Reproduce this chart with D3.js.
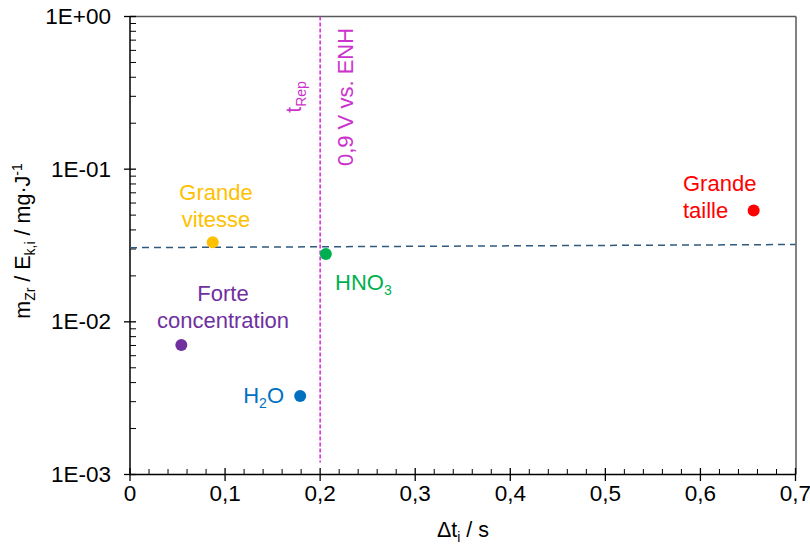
<!DOCTYPE html>
<html><head><meta charset="utf-8">
<script src="https://cdn.jsdelivr.net/npm/d3@7"></script>
<style>body{margin:0;background:#fff}text{font-family:"Liberation Sans",Arial,sans-serif}</style>
</head><body><svg id="c" width="810" height="546"></svg>
<script>
const names = ["Grande vitesse","HNO3","Grande taille","Forte concentration","H2O"];
const xVals = [0.087, 0.206, 0.656, 0.054, 0.179];
const yVals = [0.0332, 0.0278, 0.0537, 0.00705, 0.00327];
const colors = ["#FFC000","#00B050","#FF0000","#7030A0","#0070C0"];
const xTicks = [0,0.1,0.2,0.3,0.4,0.5,0.6,0.7];
const xTickLabels = ["0","0,1","0,2","0,3","0,4","0,5","0,6","0,7"];
const yTicks = [1e-3,1e-2,1e-1,1];
const yTickLabels = ["1E-03","1E-02","1E-01","1E+00"];
const trendX = [0, 0.7];
const trendY = [0.0306, 0.0321];
const repX = [0.2, 0.2];
const repY = [1, 0.0012];

const svg = d3.select("#c");
const x = d3.scaleLinear().domain([0,0.7]).range([130,795.5]);
const y = d3.scaleLog().domain([1e-3,1]).range([474.5,16.5]);

// borders top/right
svg.append("line").attr("x1",130).attr("x2",796).attr("y1",16.5).attr("y2",16.5).attr("stroke","#595959").attr("stroke-width",1.5);
svg.append("line").attr("x1",796).attr("x2",796).attr("y1",16.5).attr("y2",474.5).attr("stroke","#595959").attr("stroke-width",1.5);

// minor ticks
const yMinor = [];
for (let d=-3; d<0; d++) for (let k=2;k<=9;k++) yMinor.push(k*Math.pow(10,d));
const xMinor = d3.range(0,0.7001,0.02).filter(v=>Math.abs(v*10-Math.round(v*10))>1e-6);
const g = svg.append("g");
g.selectAll(".ym").data(yMinor).join("line").attr("x1",130).attr("x2",136).attr("y1",d=>y(d)).attr("y2",d=>y(d)).attr("stroke","#000").attr("stroke-width",1);
g.selectAll(".xm").data(xMinor).join("line").attr("x1",d=>x(d)).attr("x2",d=>x(d)).attr("y1",474.5).attr("y2",469).attr("stroke","#000").attr("stroke-width",1);
// major ticks
g.selectAll(".yM").data(yTicks).join("line").attr("x1",124).attr("x2",136).attr("y1",d=>y(d)).attr("y2",d=>y(d)).attr("stroke","#000").attr("stroke-width",1.3);
g.selectAll(".xM").data(xTicks).join("line").attr("x1",d=>x(d)).attr("x2",d=>x(d)).attr("y1",468).attr("y2",481).attr("stroke","#000").attr("stroke-width",1.3);
// axes
svg.append("line").attr("x1",130).attr("x2",130).attr("y1",16.5).attr("y2",474.5).attr("stroke","#000").attr("stroke-width",1.5);
svg.append("line").attr("x1",130).attr("x2",796).attr("y1",474.5).attr("y2",474.5).attr("stroke","#000").attr("stroke-width",1.5);

// tick labels
g.selectAll(".yl").data(yTicks).join("text").attr("x",111).attr("y",d=>y(d)+7.5).attr("text-anchor","end").attr("font-size",22.5).attr("fill","#000").text((d,i)=>yTickLabels[i]);
g.selectAll(".xl").data(xTicks).join("text").attr("x",d=>x(d)).attr("y",500.5).attr("text-anchor","middle").attr("font-size",22.5).attr("fill","#000").text((d,i)=>xTickLabels[i]);

// axis titles
const xt = svg.append("text").attr("x",463).attr("y",537).attr("text-anchor","middle").attr("font-size",21.5).attr("fill","#000");
xt.append("tspan").text("\u0394t");
xt.append("tspan").attr("font-size",14).attr("dy",5).text("i");
xt.append("tspan").attr("dy",-5).text(" / s");

const yt = svg.append("text").attr("transform","translate(30,241) rotate(-90)").attr("text-anchor","middle").attr("font-size",21.5).attr("fill","#000");
yt.append("tspan").text("m");
yt.append("tspan").attr("font-size",14).attr("dy",5).text("Zr");
yt.append("tspan").attr("dy",-5).text(" / E");
yt.append("tspan").attr("font-size",14).attr("dy",5).text("k,i");
yt.append("tspan").attr("dy",-5).text(" / mg\u00B7J");
yt.append("tspan").attr("font-size",14).attr("dy",-8).text("-1");

// lines
const line = d3.line().x(d=>x(d[0])).y(d=>y(d[1]));
svg.append("path").attr("d",line(trendX.map((v,i)=>[v,trendY[i]]))).attr("stroke","#2F5A7E").attr("stroke-width",1.5).attr("stroke-dasharray","7,5").attr("fill","none");
svg.append("path").attr("d",line(repX.map((v,i)=>[v,repY[i]]))).attr("stroke","#DD22DD").attr("stroke-width",1.5).attr("stroke-dasharray","4,2").attr("fill","none");

// magenta labels
const tr = svg.append("text").attr("transform","translate(301,97) rotate(-90)").attr("text-anchor","middle").attr("font-size",21.5).attr("fill","#CC33CC");
tr.append("tspan").text("t");
tr.append("tspan").attr("font-size",14).attr("dy",5).text("Rep");
svg.append("text").attr("transform","translate(353,97) rotate(-90)").attr("text-anchor","middle").attr("font-size",22).attr("fill","#CC33CC").text("0,9 V vs. ENH");

// points
svg.selectAll(".pt").data(xVals).join("circle").attr("cx",d=>x(d)).attr("cy",(d,i)=>y(yVals[i])).attr("r",6).attr("fill",(d,i)=>colors[i]);

// point labels
function lab(lines, xx, yy, anchor, col){
  const t = svg.append("text").attr("font-size",22).attr("fill",col).attr("text-anchor",anchor);
  lines.forEach((l,i)=>t.append("tspan").attr("x",xx).attr("y",yy+i*27).text(l));
  return t;
}
lab(["Grande","vitesse"],216,200,"middle",colors[0]);
lab(["Grande","taille"],683,191,"start",colors[2]);
lab(["Forte","concentration"],223,301,"middle",colors[3]);
const hn = svg.append("text").attr("x",335).attr("y",290).attr("font-size",22).attr("fill",colors[1]);
hn.append("tspan").text("HNO");
hn.append("tspan").attr("font-size",14).attr("dy",5).text("3");
const ho = svg.append("text").attr("x",284).attr("y",403).attr("text-anchor","end").attr("font-size",22).attr("fill",colors[4]);
ho.append("tspan").text("H");
ho.append("tspan").attr("font-size",14).attr("dy",5).text("2");
ho.append("tspan").attr("dy",-5).text("O");
</script></body></html>
